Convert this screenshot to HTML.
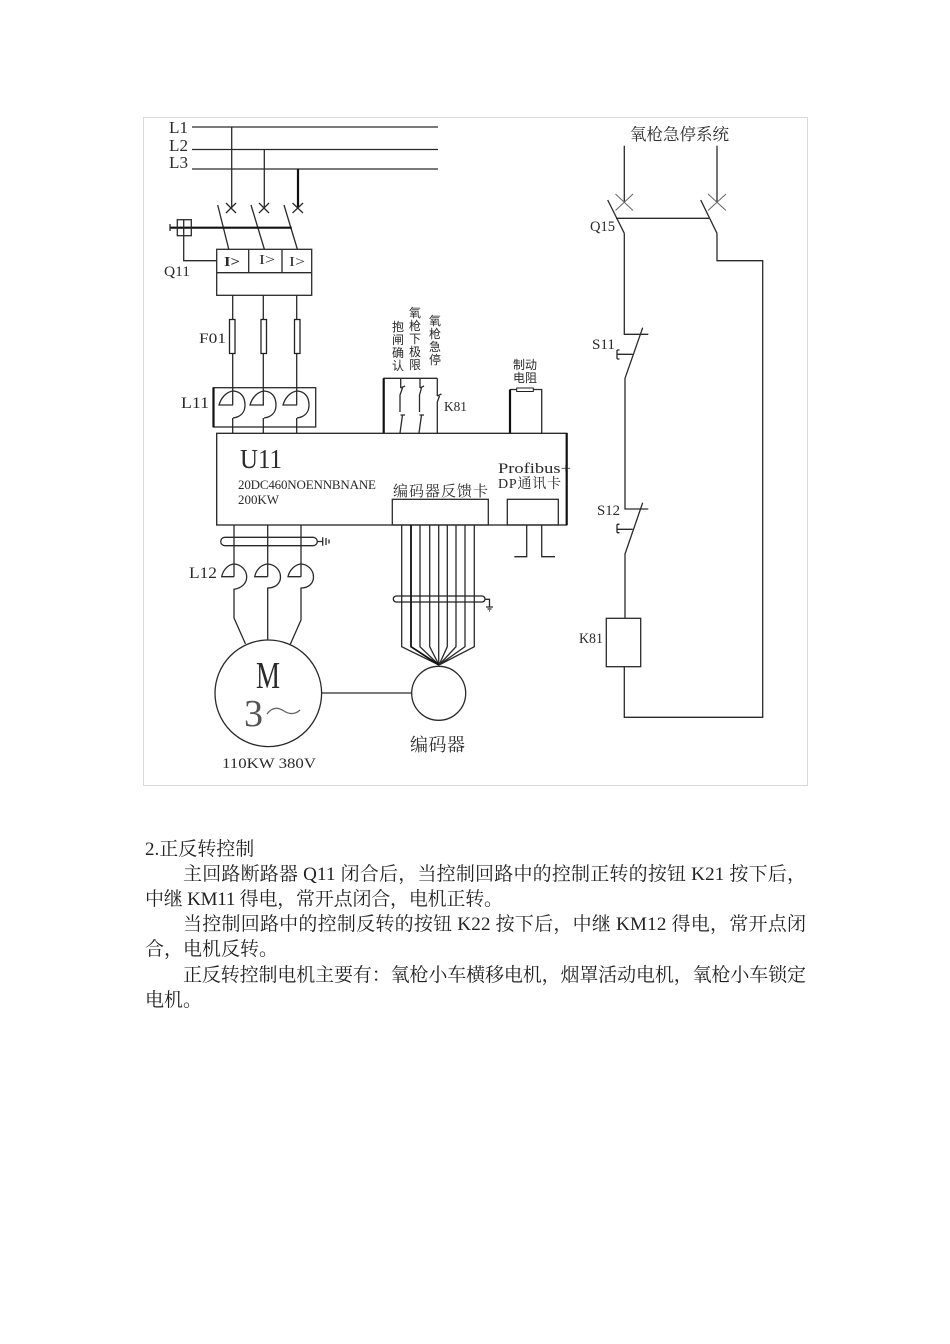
<!DOCTYPE html>
<html lang="zh">
<head>
<meta charset="utf-8">
<style>
html,body{margin:0;padding:0;background:#fff;}
body{width:950px;height:1344px;overflow:hidden;}
svg{display:block;}
.d{filter:blur(.3px);}
.w{fill:none;stroke:#2a2a2a;stroke-width:1.3;}
.t{fill:none;stroke:#111;stroke-width:2.2;}
.l{font-family:"Liberation Serif","Noto Serif CJK SC",serif;font-size:14px;fill:#2a2a2a;}
.c{font-family:"Liberation Sans","Noto Sans CJK SC",sans-serif;font-size:12px;fill:#2a2a2a;text-anchor:middle;}
.p{font-family:"Liberation Serif","Noto Serif CJK SC",serif;font-size:19px;fill:#222;}
</style>
</head>
<body>
<svg width="950" height="1344" viewBox="0 0 950 1344" xmlns="http://www.w3.org/2000/svg">
<rect x="143.5" y="117.5" width="664" height="668" fill="#fff" stroke="#d9d9d9" stroke-width="1"/>
<g class="d">
<!-- L lines -->
<path class="w" d="M192 127H438M192 149.5H438M192 169H438"/>
<text class="l" x="169" y="133" style="font-size:17px" textLength="19" lengthAdjust="spacingAndGlyphs">L1</text>
<text class="l" x="169" y="151" style="font-size:17px" textLength="19" lengthAdjust="spacingAndGlyphs">L2</text>
<text class="l" x="169" y="168" style="font-size:17px" textLength="19" lengthAdjust="spacingAndGlyphs">L3</text>
<path class="w" d="M231.7 127V208M264.3 149.5V208"/>
<path class="t" d="M298 169V208"/>
<path class="w" d="M226 203L236 213M236 203L226 213M259 203L269 213M269 203L259 213M292.5 203L303 213M303 203L292.5 213"/>
<path class="w" d="M217.7 205L228.7 249M251 205L264.3 249M284 205L297.3 249"/>
<path class="t" d="M170 227.7H291.7"/>
<path class="w" d="M170 224V231"/>
<rect class="w" x="177.3" y="219.7" width="14" height="16"/>
<path class="w" d="M183.7 219.7V260.7H216.7"/>
<rect class="w" x="216.7" y="249.3" width="95" height="46"/>
<path class="w" d="M216.7 272.7H311.7M248.7 249.3V272.7M282 249.3V272.7"/>
<text class="l" x="224" y="266" style="font-weight:bold" textLength="16" lengthAdjust="spacingAndGlyphs">I&gt;</text>
<text class="l" x="259" y="264" textLength="16" lengthAdjust="spacingAndGlyphs">I&gt;</text>
<text class="l" x="289" y="266" textLength="16" lengthAdjust="spacingAndGlyphs">I&gt;</text>
<text class="l" x="164" y="276" style="font-size:15px" textLength="26" lengthAdjust="spacingAndGlyphs">Q11</text>

<!-- fuses and upper coil leads -->
<path class="w" d="M232.7 295.3V405M263.3 295.3V405M296.7 295.3V405"/>
<path class="w" d="M232.7 418V433M263.3 418V433M296.7 418V433"/>
<rect x="229.5" y="319.5" width="5.5" height="34" fill="#fff" stroke="#222" stroke-width="1.3"/>
<rect x="261" y="319.5" width="5.5" height="34" fill="#fff" stroke="#222" stroke-width="1.3"/>
<rect x="294.5" y="319.5" width="5.5" height="34" fill="#fff" stroke="#222" stroke-width="1.3"/>
<text class="l" x="199" y="343" style="font-size:15px" textLength="27" lengthAdjust="spacingAndGlyphs">F01</text>

<!-- L11 -->
<rect class="w" x="213.3" y="387.7" width="102.4" height="39.3"/>
<path class="t" d="M213.5 387.7V427"/>
<path class="w" d="M233 405H219C221 398 226 392 233 391C241 391.500 245 397 245 405C245 413 240 417 233 418"/>
<path class="w" d="M264 405H250C252 398 257 392 264 391C272 391.500 276 397 276 405C276 413 271 417 264 418"/>
<path class="w" d="M297 405H283C285 398 290 392 297 391C305 391.500 309 397 309 405C309 413 304 417 297 418"/>
<text class="l" x="181" y="408" style="font-size:16px" textLength="28" lengthAdjust="spacingAndGlyphs">L11</text>

<!-- vertical labels -->
<g class="c">
<text class="c" x="398" y="331">抱</text><text class="c" x="398" y="344">闸</text><text class="c" x="398" y="357">确</text><text class="c" x="398" y="370">认</text>
<text class="c" x="415" y="317">氧</text><text class="c" x="415" y="330">枪</text><text class="c" x="415" y="343">下</text><text class="c" x="415" y="356">极</text><text class="c" x="415" y="369">限</text>
<text class="c" x="435" y="325">氧</text><text class="c" x="435" y="338">枪</text><text class="c" x="435" y="351">急</text><text class="c" x="435" y="364">停</text>
</g>

<!-- K81 contacts -->
<path class="w" d="M383.3 378.3H437.3"/>
<path class="t" d="M383.7 378.300V433"/>
<path class="w" d="M400.700 378.300V388M400.700 388L405 386M402.500 388L400 395V412M405 415H400.500M402.500 415L400 433"/>
<path class="w" d="M420 378.300V388M420 388L424 386M421.500 388L419.500 395V412M424 415H419.500M421.500 415L419 433"/>
<path class="w" d="M437.300 378.300V396M437.300 396L441.500 394M439.500 396L437.300 402V433"/>
<text class="l" x="444" y="411" style="font-size:14px" textLength="23" lengthAdjust="spacingAndGlyphs">K81</text>

<!-- brake resistor -->
<text class="c" x="525" y="369" textLength="24">制动</text>
<text class="c" x="525" y="382" textLength="24">电阻</text>
<path class="w" d="M510 389.500H541.700V433"/>
<path class="t" d="M510 389.500V433"/>
<rect x="516.700" y="388" width="16.600" height="3.500" fill="#fff" stroke="#222" stroke-width="1"/>

<!-- U11 -->
<rect x="216.700" y="433.300" width="350" height="91.700" fill="#fff" stroke="#222" stroke-width="1.300"/>
<path class="t" d="M566.700 433V525"/>
<text class="l" x="240" y="468" style="font-size:27px" textLength="42" lengthAdjust="spacingAndGlyphs">U11</text>
<text class="l" x="238" y="489" style="font-size:13px" textLength="138">20DC460NOENNBNANE</text>
<text class="l" x="238" y="504" style="font-size:13px" textLength="41" lengthAdjust="spacingAndGlyphs">200KW</text>
<text class="l" x="498" y="473" style="font-size:15px" textLength="73" lengthAdjust="spacingAndGlyphs">Profibus+</text>
<text class="l" x="498" y="488" style="font-size:14px" textLength="63">DP通讯卡</text>
<text class="l" x="393" y="496" style="font-size:15px" textLength="95">编码器反馈卡</text>
<rect class="w" x="392.300" y="499.300" width="96" height="25.700"/>
<rect class="w" x="507.300" y="499.300" width="51" height="25.700"/>
<path class="w" d="M526.700 525V556.700H514.300M541.700 525V556.700H555"/>

<!-- lower motor leads -->
<path class="w" d="M234 525V576.700M267.700 525V576.700M301 525V576.700"/>
<rect class="w" x="220.700" y="537.300" width="96.600" height="8.400" rx="4.200"/>
<path class="w" d="M317.300 541.500H322.700M322.700 537.300V545.700M326 538V545M329 539.500V543.500"/>
<path class="w" d="M234 576.700H221.700C223 570 228 564.500 234 564C241 564.500 246.700 570 246.700 577C246.700 583 242 588 234 589.300V618L245.500 644"/>
<path class="w" d="M267.700 576.700H254.700C256 570 261 564.500 267.700 564C275 564.500 280.500 570 280.500 577C280.500 583 276 588 267.700 588V640"/>
<path class="w" d="M301 576.700H288C289.500 570 295 564.500 301 564C308 564.500 313.500 570 313.500 577C313.500 583 309 588 301 588V620L290 645"/>
<text class="l" x="189" y="578" style="font-size:16px" textLength="28" lengthAdjust="spacingAndGlyphs">L12</text>

<!-- motor -->
<circle class="w" cx="268.300" cy="693.300" r="53.300"/>
<text class="l" x="256" y="688" style="font-size:38px" textLength="24" lengthAdjust="spacingAndGlyphs">M</text>
<text class="l" x="244" y="726" style="font-size:38px;fill:#555">3</text>
<path class="w" d="M267 714C272 707 278 707 284 711C290 715 296 714 300 710" style="stroke:#666"/>
<text class="l" x="222" y="768" style="font-size:15px" textLength="94" lengthAdjust="spacingAndGlyphs">110KW 380V</text>
<path class="w" d="M321.700 693H411.700"/>

<!-- encoder -->
<circle class="w" cx="438.700" cy="693.300" r="27"/>
<path class="w" d="M401.700 525V646.700L439 665M420 525V646.700L439 665M429.700 525V646.700L439 665M438.700 525V665M447.300 525V646.700L439 665M456 525V646.700L439 665M465 525V646.700L439 665M474.300 525V646.700L439 665"/>
<path class="t" d="M411 525V646.700L439 665" style="stroke-width:1.800"/>
<rect x="393.300" y="596" width="91.700" height="6" rx="3" fill="none" stroke="#222" stroke-width="1.300"/>
<path class="w" d="M485 599.300H489.500V607M486 607H493M487.500 609H491.500M489 611H490"/>
<text class="l" x="410" y="751" style="font-size:18px" textLength="55">编码器</text>

<!-- right circuit -->
<text class="l" x="630" y="140" style="font-size:16.500px" textLength="99">氧枪急停系统</text>
<path class="w" d="M624.300 145.700V201.700M717 145.700V201.700"/>
<path class="w" d="M615.500 194L633 210.500M633 194L615.500 210.500M708 194L726 210.500M726 194L708 210.500" style="stroke:#666;stroke-width:1"/>
<path class="w" d="M607.700 200L624.300 233.300M700.700 200L717 233.300"/>
<path class="w" d="M616 218.300H709.300"/>
<path class="w" d="M624.300 233.300V334.300H648.300"/>
<path class="w" d="M717 233.300V260.700H762.700V717.300H624.300V666.700"/>
<path class="w" d="M642.700 327.700L625 378.300V509H648.300"/>
<path class="w" d="M642.700 502.700L625 554V618.300"/>
<path class="w" d="M632.700 354.300H617M617 350V359M617 350H619.500M617 359H619.500"/>
<path class="w" d="M632.700 529.300H617M617 524.300V532.700M617 524.300H619.500M617 532.700H619.500"/>
<rect class="w" x="606.300" y="618.300" width="34.400" height="48.400"/>
<text class="l" x="590" y="231" style="font-size:15px" textLength="25" lengthAdjust="spacingAndGlyphs">Q15</text>
<text class="l" x="592" y="349" style="font-size:15px" textLength="23" lengthAdjust="spacingAndGlyphs">S11</text>
<text class="l" x="597" y="515" style="font-size:15px" textLength="23" lengthAdjust="spacingAndGlyphs">S12</text>
<text class="l" x="579" y="643" style="font-size:15px" textLength="24" lengthAdjust="spacingAndGlyphs">K81</text>
</g>

<!-- paragraphs -->
<text class="p" x="145" y="855">2.正反转控制</text>
<text class="p" x="183" y="880" textLength="623">主回路断路器 Q11 闭合后，当控制回路中的控制正转的按钮 K21 按下后，</text>
<text class="p" x="145" y="905" textLength="358">中继 KM11 得电，常开点闭合，电机正转。</text>
<text class="p" x="183" y="930" textLength="623">当控制回路中的控制反转的按钮 K22 按下后，中继 KM12 得电，常开点闭</text>
<text class="p" x="145" y="955">合，电机反转。</text>
<text class="p" x="183" y="981" textLength="623">正反转控制电机主要有：氧枪小车横移电机，烟罩活动电机，氧枪小车锁定</text>
<text class="p" x="145" y="1006">电机。</text>
</svg>
</body>
</html>
